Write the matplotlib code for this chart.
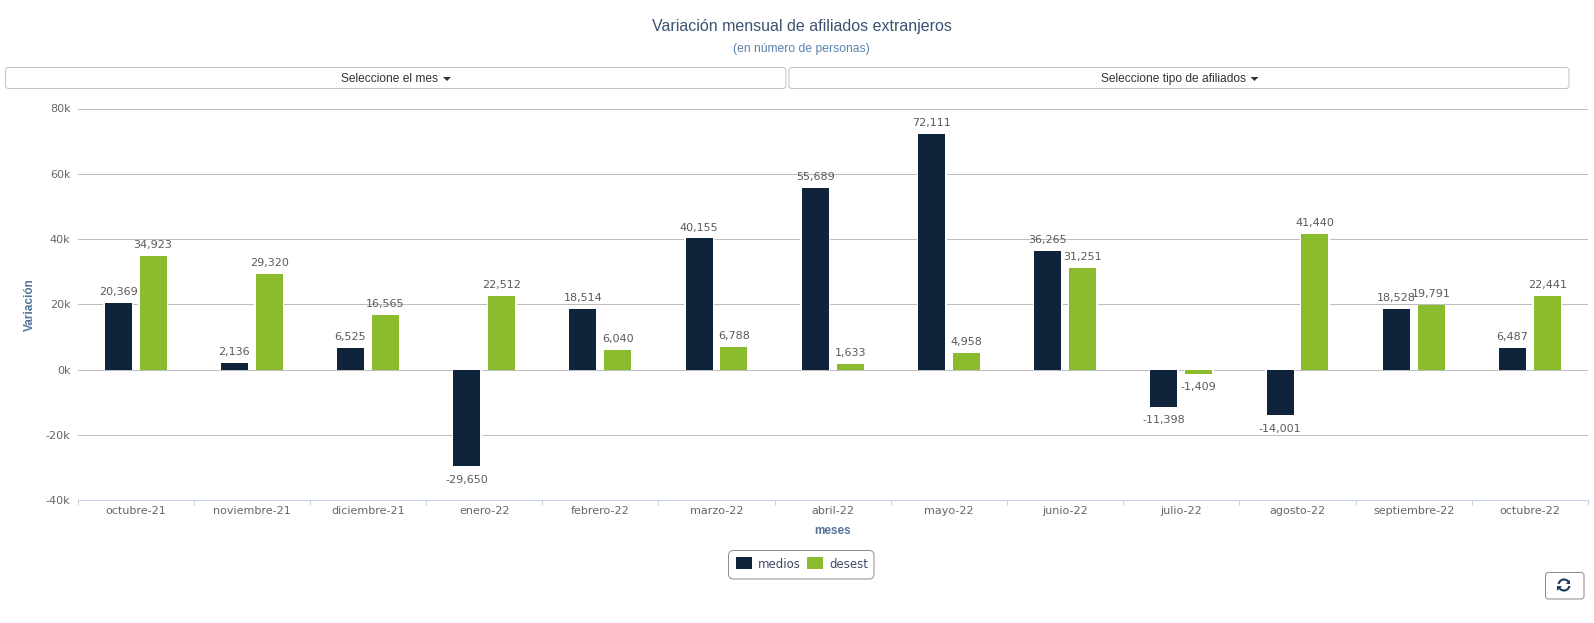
import numpy as np
import matplotlib
matplotlib.use('Agg')
import matplotlib.pyplot as plt
from matplotlib.patches import FancyBboxPatch, Rectangle, Polygon, Arc

# data
meses = ['octubre-21', 'noviembre-21', 'diciembre-21', 'enero-22', 'febrero-22', 'marzo-22', 'abril-22',
         'mayo-22', 'junio-22', 'julio-22', 'agosto-22', 'septiembre-22', 'octubre-22']
medios = [20369, 2136, 6525, -29650, 18514, 40155, 55689, 72111, 36265, -11398, -14001, 18528, 6487]
desest = [34923, 29320, 16565, 22512, 6040, 6788, 1633, 4958, 31251, -1409, 41440, 19791, 22441]
y_ticks = [-40000, -20000, 0, 20000, 40000, 60000, 80000]

color_medios = '#0f243a'
color_desest = '#8bbc2d'
color_text = '#666666'
W, H = 1594, 623
PX = 0.72  # one pixel in points at dpi 100

plt.rcParams['font.family'] = 'DejaVu Sans'
fig = plt.figure(figsize=(W / 100, H / 100), dpi=100)

# =============================================================================
# Bars
# =============================================================================
ax = fig.add_axes([77.5 / W, 1 - 500 / H, (1588 - 77.5) / W, (500 - 108.5) / H])
x = np.arange(len(meses))
bar_w = 27 / 116.2
halo_w = 30 / 116.2  # white border that cuts the grid lines beside each bar
for xs, values, color in [(x - 0.15, medios, color_medios), (x + 0.15, desest, color_desest)]:
    ax.bar(xs, values, halo_w, color='white', zorder=2)
    ax.bar(xs, values, bar_w, color=color, zorder=3)


def label_bars(xs, values):
    for xi, v in zip(xs, values):
        offset = 4.3 if v >= 0 else -6
        va = 'bottom' if v >= 0 else 'top'
        ax.annotate(f'{v:,}', (xi, v), xytext=(0, offset), textcoords='offset points',
                    ha='center', va=va, fontsize=8, color='#5a5a5a', zorder=4)


label_bars(x - 0.15, medios)
label_bars(x + 0.15, desest)

ax.set_xlim(-0.5, len(meses) - 0.5)
ax.set_ylim(-40000, 80000)
ax.set_yticks(y_ticks)
ax.set_yticklabels([f'{int(t / 1000)}k' for t in y_ticks], fontsize=8, color=color_text, va='center_baseline')
ax.set_xticks(x)
ax.set_xticklabels(meses, fontsize=8, color=color_text)
ax.set_xticks(np.arange(len(meses) + 1) - 0.5, minor=True)
ax.tick_params(axis='x', which='major', length=0, pad=4.3)
ax.tick_params(axis='x', which='minor', length=3.6, color='#c0cfe3', width=PX)
ax.tick_params(axis='y', length=0, pad=5)
ax.grid(axis='y', color='#bdbdbd', lw=PX, zorder=0)
ax.axhline(0, color='#c0cfe3', lw=PX, zorder=1)
for s in ['top', 'left', 'right']:
    ax.spines[s].set_visible(False)
ax.spines['bottom'].set_color('#c0cfe3')
ax.spines['bottom'].set_linewidth(PX)
ax.set_xlabel('meses', fontsize=8.5, fontweight='bold', family='Liberation Sans', color='#54749c', labelpad=6.5)
ax.set_ylabel('Variación', fontsize=8.5, fontweight='bold', family='Liberation Sans', color='#54749c', labelpad=7)

# =============================================================================
# Page furniture: title, dropdown buttons, legend box, refresh button
# =============================================================================
ui = fig.add_axes([0, 0, 1, 1], zorder=5)
ui.set_xlim(0, W)
ui.set_ylim(H, 0)
ui.axis('off')
ui.patch.set_alpha(0)

ui.text(802, 26, 'Variación mensual de afiliados extranjeros', ha='center', va='center',
        fontsize=11.5, family='Liberation Sans', color='#3b5272')
ui.text(801, 49, '(en número de personas)', ha='center', va='center',
        fontsize=8.7, family='Liberation Sans', color='#5b83ad')


def rounded(x0, y0, x1, y1, edge, r=3, lw=PX, fill='white'):
    ui.add_patch(FancyBboxPatch((x0 + r, y0 + r), x1 - x0 - 2 * r, y1 - y0 - 2 * r,
                                boxstyle=f'round,pad={r},rounding_size={r}',
                                fc=fill, ec=edge, lw=lw))


def dropdown(x0, x1, label, caret):
    rounded(x0, 67.5, x1, 88.5, '#c4c4c4')
    ui.text(caret - 4.5, 82, label, ha='right', va='baseline', fontsize=8.65,
            family='Liberation Sans', color='#333333')
    ui.add_patch(Polygon([(caret, 77), (caret + 8, 77), (caret + 4, 81)], fc='#333333', ec='none'))


dropdown(5.5, 786, 'Seleccione el mes', 443)
dropdown(789, 1569, 'Seleccione tipo de afiliados', 1250.5)

# legend
rounded(728.5, 550.5, 874, 579, '#909090', r=5)
ui.add_patch(Rectangle((736, 557), 16, 12, fc=color_medios, ec='none'))
ui.text(757.5, 565, 'medios', ha='left', va='center', fontsize=8.5, color='#3b4a63')
ui.add_patch(Rectangle((807, 557), 16, 12, fc=color_desest, ec='none'))
ui.text(829, 565, 'desest', ha='left', va='center', fontsize=8.5, color='#3b4a63')

# refresh button
rounded(1545.5, 572.5, 1584, 599, '#8c8c8c', r=3)
cx, cy = 1564, 585
ui.add_patch(Arc((cx, cy), 11, 11, theta1=190, theta2=340, color='#1f3a5a', lw=1.5))
ui.add_patch(Arc((cx, cy), 11, 11, theta1=10, theta2=160, color='#1f3a5a', lw=1.5))
ui.add_patch(Polygon([(cx + 2, cy - 1), (cx + 6.5, cy - 1), (cx + 6.5, cy - 5.5)], fc='#1f3a5a', ec='none'))
ui.add_patch(Polygon([(cx - 2, cy + 1), (cx - 6.5, cy + 1), (cx - 6.5, cy + 5.5)], fc='#1f3a5a', ec='none'))

fig.savefig('out.png', dpi=100, facecolor='white')
